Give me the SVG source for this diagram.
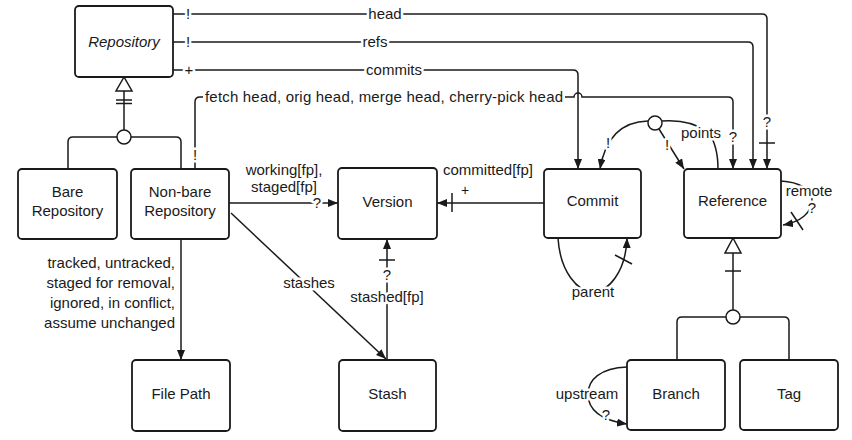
<svg xmlns="http://www.w3.org/2000/svg" width="852" height="440" viewBox="0 0 852 440">
  <style>
    text { font-family: "Liberation Sans", Arial, sans-serif; font-size: 15px; fill: #1a1a1a; }
    .box { fill: #fff; stroke: #1a1a1a; stroke-width: 1.8; }
    .ln { fill: none; stroke: #1a1a1a; stroke-width: 1.5; }
    .arr { marker-end: url(#arrow); }
    .lbl { text-anchor: middle; stroke: #fff; stroke-width: 5; paint-order: stroke; stroke-linejoin: round; }
    .lbr { text-anchor: end; }
    .mid { text-anchor: middle; }
    .gen { fill: #fff; stroke: #1a1a1a; stroke-width: 1.5; }
  </style>
  <defs>
    <marker id="arrow" viewBox="0 0 10 8" refX="10" refY="4" markerWidth="10" markerHeight="8" markerUnits="userSpaceOnUse" orient="auto">
      <path d="M0,0 L10,4 L0,8 Z" fill="#1a1a1a"/>
    </marker>
  </defs>

  <!-- connectors -->
  <g id="connectors">
    <!-- Repository: head / refs / commits -->
    <path class="ln arr" d="M173,14 H762 Q767,14 767,19 V169"/>
    <path class="ln arr" d="M173,42 H748 Q753,42 753,47 V169"/>
    <path class="ln arr" d="M173,70 H573 Q578,70 578,75 V169"/>
    <text class="lbl" x="188" y="19">!</text>
    <text class="lbl" x="188" y="47">!</text>
    <text class="lbl" x="189" y="75">+</text>
    <text class="lbl" x="385" y="19">head</text>
    <text class="lbl" x="375" y="47">refs</text>
    <text class="lbl" x="394" y="75">commits</text>
    <text class="lbl" x="767" y="127">?</text>
    <line class="ln" x1="759" y1="143" x2="775" y2="143"/>

    <!-- Non-bare Repository: special heads (line broken around the label, hop over commits) -->
    <path class="ln" d="M195,169 V102 Q195,97 200,97 H203"/>
    <path class="ln arr" d="M565,97 H574 A4,4 0 0 1 582,97 H728 Q733,97 733,102 V169"/>
    <text class="lbl" x="195" y="160">!</text>
    <text x="205" y="102" textLength="358" lengthAdjust="spacing">fetch head, orig head, merge head, cherry-pick head</text>
    <text class="lbl" x="733" y="142">?</text>

    <!-- Repository generalisation -->
    <line class="ln" x1="124" y1="91" x2="124" y2="130"/>
    <polygon class="gen" points="124,77 116,91 132,91"/>
    <line class="ln" x1="116" y1="100" x2="132" y2="100"/>
    <line class="ln" x1="116" y1="103.5" x2="132" y2="103.5"/>
    <path class="ln" d="M117,137 H73 Q68,137 68,142 V169"/>
    <path class="ln" d="M131,137 H176 Q181,137 181,142 V169"/>
    <circle class="gen" cx="124" cy="137" r="7"/>

    <!-- working / staged -->
    <path class="ln arr" d="M229,203 H338"/>
    <text class="mid" x="284" y="175">working[fp],</text>
    <text class="mid" x="284" y="192">staged[fp]</text>
    <text class="lbl" x="317" y="208">?</text>

    <!-- committed -->
    <path class="ln arr" d="M544,203 H437"/>
    <line class="ln" x1="452" y1="193" x2="452" y2="212"/>
    <text class="mid" x="465" y="195" style="font-size:14px">+</text>
    <text class="mid" x="488" y="175">committed[fp]</text>

    <!-- stashed -->
    <path class="ln arr" d="M387,360 V239"/>
    <line class="ln" x1="379" y1="260" x2="395" y2="260"/>
    <text class="lbl" x="387" y="280">?</text>
    <text class="lbl" x="387" y="302">stashed[fp]</text>

    <!-- stashes -->
    <path class="ln arr" d="M231,213 L386,359"/>
    <text class="lbl" x="309" y="288">stashes</text>

    <!-- file states -->
    <path class="ln arr" d="M181,239 V360"/>
    <text class="lbr" x="175" y="268">tracked, untracked,</text>
    <text class="lbr" x="175" y="288">staged for removal,</text>
    <text class="lbr" x="175" y="308">ignored, in conflict,</text>
    <text class="lbr" x="175" y="328">assume unchanged</text>

    <!-- parent -->
    <path class="ln arr" d="M558,238 C560,272 578,292 593,292 C608,292 626,272 627,238"/>
    <line class="ln" x1="615" y1="255" x2="632" y2="264"/>
    <text class="lbl" x="593" y="297">parent</text>

    <!-- points -->
    <path class="ln arr" d="M648,121 Q608,122 600,169"/>
    <text class="lbl" x="608" y="148">!</text>
    <path class="ln arr" d="M659,129 L684,169"/>
    <text class="lbl" x="667" y="150">!</text>
    <path class="ln" d="M662,121 Q690,119 708,132 Q718,145 718,169"/>
    <text class="lbl" x="701" y="138">points</text>
    <circle class="gen" cx="655" cy="123" r="7"/>

    <!-- remote -->
    <path class="ln arr" d="M781,181 C800,182 812,190 812,200 C812,213 800,222 783,225"/>
    <line class="ln" x1="791" y1="212" x2="803" y2="230"/>
    <text class="lbl" x="809" y="196">remote</text>
    <text class="lbl" x="812" y="213">?</text>

    <!-- Reference generalisation -->
    <line class="ln" x1="733" y1="253" x2="733" y2="310"/>
    <polygon class="gen" points="733,238 725,253 741,253"/>
    <line class="ln" x1="725" y1="271" x2="741" y2="271"/>
    <path class="ln" d="M726,317 H682 Q677,317 677,322 V360"/>
    <path class="ln" d="M740,317 H784 Q789,317 789,322 V360"/>
    <circle class="gen" cx="733" cy="317" r="7"/>

    <!-- upstream -->
    <path class="ln arr" d="M627,367 C600,368 588,380 588,394 C588,410 600,420 627,424"/>
    <text class="lbl" x="587" y="399">upstream</text>
    <text class="lbl" x="606" y="420">?</text>
  </g>

  <!-- nodes -->
  <g id="repository">
    <rect class="box" x="75" y="6" width="98" height="71" rx="4"/>
    <text class="mid" x="124" y="47" font-style="italic">Repository</text>
  </g>
  <g id="bare-repository">
    <rect class="box" x="18" y="169" width="99" height="70" rx="4"/>
    <text class="mid" x="67.5" y="197">Bare</text>
    <text class="mid" x="67.5" y="216">Repository</text>
  </g>
  <g id="non-bare-repository">
    <rect class="box" x="131" y="169" width="98" height="70" rx="4"/>
    <text class="mid" x="180" y="197">Non-bare</text>
    <text class="mid" x="180" y="216">Repository</text>
  </g>
  <g id="version">
    <rect class="box" x="338" y="168" width="99" height="71" rx="4"/>
    <text class="mid" x="387.5" y="207">Version</text>
  </g>
  <g id="commit">
    <rect class="box" x="544" y="169" width="97" height="69" rx="4"/>
    <text class="mid" x="592.5" y="206">Commit</text>
  </g>
  <g id="reference">
    <rect class="box" x="684" y="169" width="97" height="69" rx="4"/>
    <text class="mid" x="732.5" y="206">Reference</text>
  </g>
  <g id="file-path">
    <rect class="box" x="132" y="360" width="98" height="71" rx="4"/>
    <text class="mid" x="181" y="399">File Path</text>
  </g>
  <g id="stash">
    <rect class="box" x="339" y="360" width="97" height="71" rx="4"/>
    <text class="mid" x="387.5" y="399">Stash</text>
  </g>
  <g id="branch">
    <rect class="box" x="627" y="360" width="98" height="70" rx="4"/>
    <text class="mid" x="676" y="399">Branch</text>
  </g>
  <g id="tag">
    <rect class="box" x="740" y="360" width="98" height="70" rx="4"/>
    <text class="mid" x="789" y="399">Tag</text>
  </g>
</svg>
